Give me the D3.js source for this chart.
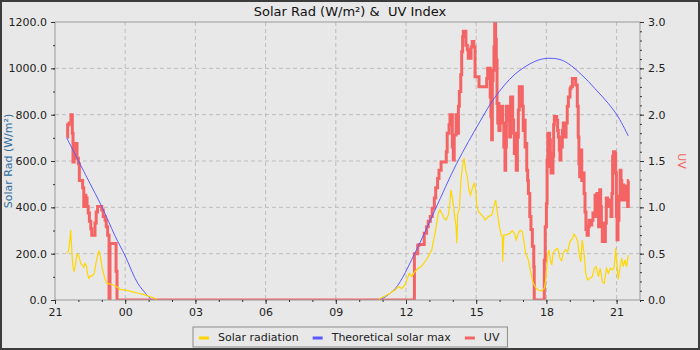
<!DOCTYPE html>
<html>
<head>
<meta charset="utf-8">
<script src="https://cdn.jsdelivr.net/npm/d3@7"></script>
<style>
  body { margin: 0; background: #e8e8e8; }
  svg text { font-family: "DejaVu Sans", sans-serif; }
</style>
</head>
<body>
<div id="chart"></div>
<script>
// horas contadas desde las 21:00 del primer día
var xTickHours = [0, 3, 6, 9, 12, 15, 18, 21, 24];
var xTickLabels = ["21", "00", "03", "06", "09", "12", "15", "18", "21"];
var leftTicks = [0, 200, 400, 600, 800, 1000, 1200];
var rightTicks = [0, 0.5, 1, 1.5, 2, 2.5, 3];
var seriesNames = ["Solar radiation", "Theoretical solar max", "UV"];

// radiación solar medida (W/m²)
var solarRad = [
  [0.50, 202], [0.57, 208], [0.63, 252], [0.67, 302], [0.71, 230], [0.74, 173], [0.78, 137],
  [0.82, 122], [0.88, 158], [0.94, 199], [1.03, 187], [1.10, 158], [1.17, 151], [1.23, 141],
  [1.28, 158], [1.34, 148], [1.38, 115], [1.45, 94], [1.51, 104], [1.59, 104], [1.68, 115],
  [1.75, 158], [1.81, 187], [1.88, 213], [1.94, 187], [2.02, 137], [2.11, 101], [2.21, 72],
  [2.35, 69], [2.49, 65], [2.64, 57], [2.78, 46], [2.99, 43], [3.28, 36], [3.56, 29],
  [3.85, 22], [4.13, 12], [4.27, 7], [4.36, 0], [8.0, null],
  [13.85, 0], [13.89, 7], [14.10, 17], [14.32, 29], [14.53, 43], [14.67, 57], [14.82, 50],
  [14.96, 65], [15.06, 94], [15.14, 115], [15.24, 101], [15.38, 122], [15.53, 137], [15.67, 147],
  [15.81, 165], [15.95, 187], [16.10, 216], [16.17, 252], [16.24, 288], [16.31, 331], [16.38, 374],
  [16.45, 389], [16.53, 374], [16.62, 353], [16.71, 345], [16.81, 367], [16.88, 424], [16.92, 475],
  [16.97, 446], [17.02, 417], [17.08, 360], [17.14, 316], [17.17, 245], [17.21, 374], [17.28, 389],
  [17.34, 504], [17.41, 576], [17.48, 612], [17.55, 561], [17.62, 532], [17.69, 475], [17.76, 453],
  [17.83, 482], [17.91, 504], [17.98, 475], [18.03, 403], [18.10, 381], [18.30, 360], [18.38, 345],
  [18.52, 360], [18.66, 367], [18.76, 403], [18.83, 432], [18.90, 381], [18.97, 331], [19.06, 281],
  [19.12, 273], [19.13, 165], [19.18, 281], [19.30, 281], [19.44, 288], [19.54, 299], [19.63, 288],
  [19.71, 259], [19.80, 288], [19.88, 302], [19.97, 295], [20.04, 252], [20.11, 202], [20.23, 173],
  [20.30, 137], [20.37, 101], [20.44, 72], [20.54, 53], [20.65, 43], [20.80, 40], [20.91, 50],
  [20.97, 86], [21.01, 137], [21.06, 194], [21.11, 216], [21.17, 173], [21.23, 151], [21.29, 202],
  [21.37, 216], [21.48, 223], [21.58, 180], [21.65, 170], [21.72, 202], [21.82, 216], [21.91, 209],
  [22.01, 252], [22.11, 266], [22.18, 284], [22.26, 273], [22.34, 252], [22.39, 202], [22.47, 165],
  [22.53, 259], [22.61, 202], [22.68, 115], [22.75, 86], [22.86, 94], [22.96, 101], [23.05, 137],
  [23.13, 144], [23.22, 101], [23.30, 137], [23.39, 79], [23.47, 72], [23.57, 137], [23.65, 115],
  [23.73, 137], [23.82, 130], [23.90, 144], [23.96, 223], [24.02, 144], [24.07, 89], [24.15, 144],
  [24.22, 180], [24.29, 144], [24.36, 173], [24.43, 144], [24.50, 194]
];

// máximo solar teórico (W/m²)
var solarMax = [
  [0.50, 700], [1.42, 518], [2.00, 403], [2.56, 278], [3.00, 190], [3.55, 70], [4.13, 0],
  [8.0, null],
  [13.89, 0], [14.53, 48], [15.38, 202], [16.24, 389], [17.17, 590], [18.16, 770], [18.80, 875],
  [19.66, 975], [20.51, 1030], [21.01, 1043], [21.58, 1038], [21.94, 1020], [22.51, 972],
  [23.08, 912], [23.65, 848], [24.07, 790], [24.50, 708]
];

// índice UV (eje derecho)
var uvIndex = [
  [0.50, 1.76], [0.54, 1.89], [0.60, 1.91], [0.68, 2.00], [0.74, 1.80], [0.77, 1.49], [0.82, 1.58],
  [0.88, 1.69], [0.94, 1.53], [1.00, 1.47], [1.04, 1.29], [1.18, 1.21], [1.23, 1.01], [1.25, 1.13],
  [1.32, 1.10], [1.37, 1.01], [1.42, 0.94], [1.47, 0.85], [1.53, 0.77], [1.57, 0.70], [1.71, 0.83],
  [1.76, 0.95], [1.82, 1.01], [2.00, 0.97], [2.06, 0.90], [2.14, 0.86], [2.19, 0.79], [2.25, 0.70],
  [2.31, 0], [2.35, 0.61], [2.61, 0.31], [2.65, 0],
  [15.36, 0.50], [15.50, 0.59], [15.56, 0.60], [15.78, 0.72], [15.88, 0.79], [15.95, 0.85],
  [16.04, 0.90], [16.12, 0.99], [16.21, 1.10], [16.27, 1.21], [16.35, 1.31], [16.41, 1.40],
  [16.50, 1.49], [16.72, 1.60], [16.76, 1.80], [16.84, 1.89], [16.88, 2.00], [16.98, 1.65],
  [17.02, 1.51], [17.06, 1.78], [17.14, 2.00], [17.18, 1.80], [17.24, 2.09], [17.28, 2.25],
  [17.34, 2.43], [17.38, 2.68], [17.42, 2.84], [17.45, 2.90], [17.56, 2.75], [17.62, 2.70],
  [17.66, 2.61], [17.78, 2.73], [17.83, 2.79], [17.90, 2.73], [17.95, 2.41], [18.12, 2.30],
  [18.45, 2.39], [18.49, 2.50], [18.60, 2.19], [18.63, 1.98], [18.66, 1.73], [18.69, 2.37],
  [18.72, 2.48], [18.76, 2.73], [18.79, 2.99], [18.83, 2.81], [18.86, 2.59], [18.89, 2.12],
  [18.92, 1.91], [18.94, 2.12], [18.97, 1.83], [19.02, 2.09], [19.06, 1.94], [19.09, 2.09],
  [19.13, 1.91], [19.18, 1.65], [19.20, 1.83], [19.23, 1.40], [19.26, 1.65], [19.29, 2.09],
  [19.35, 1.94], [19.37, 2.09], [19.43, 1.76], [19.47, 2.19], [19.56, 1.94], [19.60, 1.80],
  [19.63, 1.58], [19.67, 1.80], [19.71, 1.40], [19.76, 1.76], [19.80, 2.05], [19.84, 2.30],
  [19.97, 2.09], [20.01, 1.83], [20.06, 1.94], [20.09, 1.65], [20.13, 1.69], [20.16, 1.40],
  [20.20, 1.29], [20.23, 1.15], [20.29, 0.90], [20.34, 0.76], [20.40, 0.58], [20.46, 0.36],
  [20.48, 0], [20.91, 0.43], [20.95, 0.79], [21.00, 1.04], [21.03, 1.51], [21.06, 1.80],
  [21.08, 1.44], [21.11, 1.80], [21.14, 1.73], [21.17, 1.51], [21.20, 1.37], [21.23, 1.58],
  [21.25, 1.37], [21.28, 1.55], [21.31, 1.89], [21.34, 1.98], [21.44, 1.94], [21.48, 1.83],
  [21.51, 1.76], [21.55, 1.62], [21.58, 1.51], [21.62, 1.65], [21.68, 1.83], [21.72, 1.91],
  [21.77, 1.76], [21.84, 1.91], [21.89, 2.09], [21.94, 2.19], [22.01, 2.28], [22.05, 2.30],
  [22.11, 2.39], [22.25, 2.32], [22.32, 2.09], [22.36, 1.76], [22.39, 1.47], [22.42, 1.33],
  [22.47, 1.62], [22.51, 1.29], [22.56, 1.37], [22.61, 1.15], [22.65, 0.95], [22.69, 0.76],
  [22.74, 0.70], [22.79, 0.79], [22.83, 0.86], [22.88, 0.81], [22.94, 0.86], [22.99, 0.94],
  [23.03, 0.90], [23.08, 1.13], [23.12, 0.94], [23.16, 1.15], [23.21, 0.90], [23.23, 0.79],
  [23.28, 1.19], [23.32, 1.01], [23.35, 0.83], [23.39, 0.63], [23.52, 0.83], [23.56, 1.10],
  [23.61, 1.08], [23.68, 1.01], [23.72, 1.08], [23.76, 0.90], [23.80, 1.15], [23.83, 1.55],
  [23.87, 1.60], [23.93, 1.58], [23.96, 1.37], [23.99, 0.90], [24.02, 0.65], [24.06, 0.86],
  [24.10, 1.12], [24.15, 1.40], [24.19, 1.29], [24.22, 1.08], [24.26, 1.24], [24.30, 1.08],
  [24.35, 1.21], [24.39, 1.08], [24.43, 1.23], [24.47, 1.01], [24.50, 1.29], [24.52, 1.29]
];

var width = 700, height = 350;
var plotLeft = 55, plotRight = 640, plotTop = 22, plotBottom = 300;
var bg = "#e8e8e8";
var colors = ["#ffd700", "#5a5aff", "#f46464"];

var svg = d3.select("#chart").append("svg")
    .attr("width", width)
    .attr("height", height);

svg.append("rect")
    .attr("x", 1).attr("y", 1)
    .attr("width", width - 2).attr("height", height - 2)
    .attr("fill", bg)
    .attr("stroke", "#3c3c3c")
    .attr("stroke-width", 2);

// escalas
var x = d3.scaleLinear().domain([0, 25]).range([plotLeft, plotRight]);
var y = d3.scaleLinear().domain([0, 1200]).range([plotBottom, plotTop]);
var yUV = d3.scaleLinear().domain([0, 3]).range([plotBottom, plotTop]);

// rejilla discontinua
var grid = svg.append("g")
    .attr("stroke", "#bdbdbd")
    .attr("stroke-dasharray", "4,3");
grid.selectAll(".h")
    .data(leftTicks.slice(1, -1))
    .enter().append("line")
    .attr("class", "h")
    .attr("x1", plotLeft).attr("x2", plotRight)
    .attr("y1", function (d) { return y(d); })
    .attr("y2", function (d) { return y(d); });
grid.selectAll(".v")
    .data(xTickHours.slice(1))
    .enter().append("line")
    .attr("class", "v")
    .attr("x1", function (d) { return x(d); })
    .attr("x2", function (d) { return x(d); })
    .attr("y1", plotTop).attr("y2", plotBottom);

// recorte del área del gráfico
svg.append("clipPath").attr("id", "plot")
    .append("rect")
    .attr("x", plotLeft).attr("y", plotTop)
    .attr("width", plotRight - plotLeft).attr("height", plotBottom - plotTop);

var plot = svg.append("g").attr("clip-path", "url(#plot)");

var uvLine = d3.line()
    .x(function (d) { return x(d[0]); })
    .y(function (d) { return yUV(d[1]); })
    .curve(d3.curveStepAfter);

var maxLine = d3.line()
    .defined(function (d) { return d[1] != null; })
    .x(function (d) { return x(d[0]); })
    .y(function (d) { return y(d[1]); })
    .curve(d3.curveCatmullRom);

var radLine = d3.line()
    .defined(function (d) { return d[1] != null; })
    .x(function (d) { return x(d[0]); })
    .y(function (d) { return y(d[1]); });

plot.append("path").datum(uvIndex)
    .attr("d", uvLine)
    .attr("fill", "none")
    .attr("stroke", colors[2])
    .attr("stroke-width", 3);

plot.append("path").datum(solarMax)
    .attr("d", maxLine)
    .attr("fill", "none")
    .attr("stroke", colors[1])
    .attr("stroke-width", 1);

plot.append("path").datum(solarRad)
    .attr("d", radLine)
    .attr("fill", "none")
    .attr("stroke", colors[0])
    .attr("stroke-width", 1.2);

// borde del área
svg.append("rect")
    .attr("x", plotLeft).attr("y", plotTop)
    .attr("width", plotRight - plotLeft).attr("height", plotBottom - plotTop)
    .attr("fill", "none")
    .attr("stroke", "#9a9a9a");

// ejes
function styleAxis(g) {
    g.select(".domain").remove();
    g.selectAll("line").attr("stroke", "#333");
    g.selectAll("text").attr("fill", "#222").style("font-size", "11px");
}

svg.append("g")
    .attr("transform", "translate(0," + plotBottom + ")")
    .call(d3.axisBottom(x).tickValues(d3.range(0, 26)).tickSize(2).tickFormat(""))
    .call(styleAxis);
svg.append("g")
    .attr("transform", "translate(0," + plotBottom + ")")
    .call(d3.axisBottom(x).tickValues(xTickHours).tickSize(4).tickPadding(4)
        .tickFormat(function (d, i) { return xTickLabels[i]; }))
    .call(styleAxis);

svg.append("g")
    .attr("transform", "translate(" + plotLeft + ",0)")
    .call(d3.axisLeft(y).tickValues(d3.range(0, 1201, 100)).tickSize(2).tickFormat(""))
    .call(styleAxis);
svg.append("g")
    .attr("transform", "translate(" + plotLeft + ",0)")
    .call(d3.axisLeft(y).tickValues(leftTicks).tickSize(4).tickPadding(4).tickFormat(d3.format(".1f")))
    .call(styleAxis);

svg.append("g")
    .attr("transform", "translate(" + plotRight + ",0)")
    .call(d3.axisRight(yUV).tickValues(d3.range(0, 31).map(function (d) { return d / 10; })).tickSize(2).tickFormat(""))
    .call(styleAxis);
svg.append("g")
    .attr("transform", "translate(" + plotRight + ",0)")
    .call(d3.axisRight(yUV).tickValues(rightTicks).tickSize(4).tickPadding(4).tickFormat(d3.format(".1f")))
    .call(styleAxis);

// títulos
svg.append("text")
    .attr("x", 350).attr("y", 16)
    .attr("text-anchor", "middle")
    .style("font-size", "13px")
    .style("white-space", "pre")
    .attr("fill", "#111")
    .text("Solar Rad (W/m²) &  UV Index");

svg.append("text")
    .attr("transform", "translate(12," + ((plotTop + plotBottom) / 2) + ") rotate(-90)")
    .attr("text-anchor", "middle")
    .style("font-size", "11px")
    .attr("fill", "#2f6f9f")
    .text("Solar Rad (W/m²)");

svg.append("text")
    .attr("transform", "translate(678," + ((plotTop + plotBottom) / 2) + ") rotate(90)")
    .attr("text-anchor", "middle")
    .style("font-size", "11px")
    .attr("fill", colors[2])
    .text("UV");

// leyenda
var legend = svg.append("g");
var box = legend.append("rect")
    .attr("y", 327).attr("height", 20)
    .attr("fill", bg)
    .attr("stroke", "#8c8c8c");
var pos = 6;
seriesNames.forEach(function (name, i) {
    legend.append("line")
        .attr("x1", pos).attr("x2", pos + 10)
        .attr("y1", 338).attr("y2", 338)
        .attr("stroke", colors[i])
        .attr("stroke-width", 3);
    var t = legend.append("text")
        .attr("x", pos + 19).attr("y", 341)
        .style("font-size", "11px")
        .attr("fill", "#222")
        .text(name);
    pos += 19 + t.node().getComputedTextLength() + 14;
});
var boxWidth = pos - 14 + 8;
box.attr("x", 0).attr("width", boxWidth);
legend.attr("transform", "translate(" + Math.round(350 - boxWidth / 2) + ",0)");
</script>
</body>
</html>
